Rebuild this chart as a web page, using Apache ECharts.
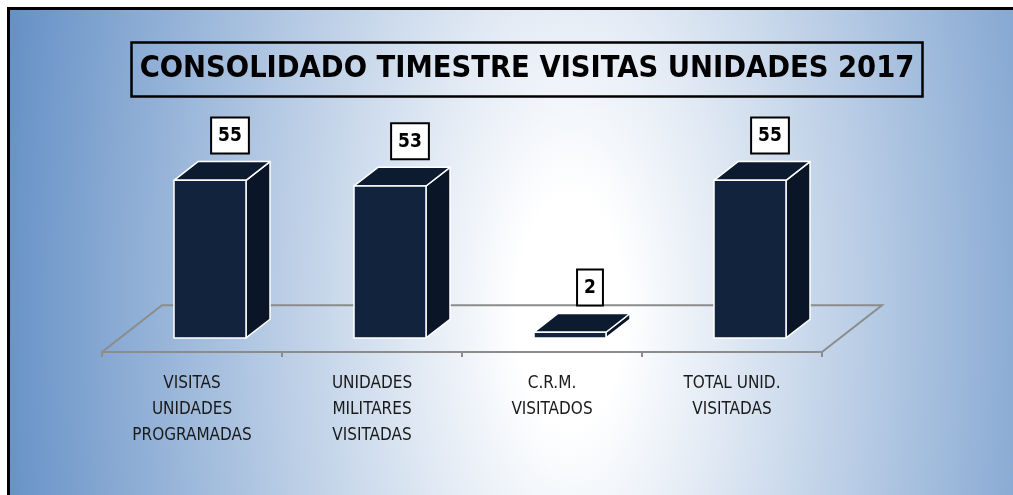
<!DOCTYPE html>
<html>
<head>
<meta charset="utf-8">
<script src="https://cdn.jsdelivr.net/npm/echarts@6/dist/echarts.min.js"></script>
<style>
html,body{margin:0;padding:0;background:#fff}
#chart{width:1013px;height:495px}
</style>
</head>
<body>
<div id="chart"></div>
<script>
const titleText = 'CONSOLIDADO TIMESTRE VISITAS UNIDADES 2017'
const categories = [
  'VISITAS\nUNIDADES\nPROGRAMADAS',
  'UNIDADES\nMILITARES\nVISITADAS',
  'C.R.M.\nVISITADOS',
  'TOTAL UNID.\nVISITADAS'
]
const values = [55, 53, 2, 55]

const narrow = "'Liberation Sans Narrow', 'DejaVu Sans Condensed', sans-serif"
// floor depth, as a share of one category band
const DEPTH_X = 1 / 3
const DEPTH_Y = 0.26
const BAR_W = 0.4

const chart = echarts.init(document.getElementById('chart'))

const renderFloor = (params, api) => {
  const band = api.size([1, 0])[0]
  const first = api.coord([0, 0])
  const last = api.coord([categories.length - 1, 0])
  const xl = first[0] - band / 2
  const xr = last[0] + band / 2
  const y = first[1]
  const dx = band * DEPTH_X, dy = band * DEPTH_Y
  return {
    type: 'polyline',
    shape: {points: [[xl, y], [xl + dx, y - dy], [xr + dx, y - dy], [xr, y]]},
    style: {stroke: '#8c8c8c', lineWidth: 2, fill: null}
  }
}

const renderBar = (params, api) => {
  const idx = api.value(0)
  const val = api.value(1)
  const base = api.coord([idx, 0])
  const top = api.coord([idx, val])
  const band = api.size([1, 0])[0]
  const dx = band * DEPTH_X, dy = band * DEPTH_Y
  const w = band * BAR_W
  const x0 = base[0] - w / 2 + dx * 0.3
  const x1 = x0 + w
  const yb = base[1] - dy * 0.3
  const yt = top[1] - dy * 0.3
  const bx = dx * 0.4, by = dy * 0.4
  const edge = {stroke: '#ffffff', lineWidth: 1.5, lineJoin: 'round'}
  return {
    type: 'group',
    children: [
      {type: 'polygon', shape: {points: [[x1, yt], [x1 + bx, yt - by], [x1 + bx, yb - by], [x1, yb]]},
        style: Object.assign({fill: '#0a1628'}, edge)},
      {type: 'polygon', shape: {points: [[x0, yt], [x1, yt], [x1 + bx, yt - by], [x0 + bx, yt - by]]},
        style: Object.assign({fill: '#0c1b30'}, edge)},
      {type: 'polygon', shape: {points: [[x0, yt], [x1, yt], [x1, yb], [x0, yb]]},
        style: Object.assign({fill: '#12233d'}, edge)},
      {type: 'text', x: (x0 + x1) / 2 + 20, y: yt - by - 9,
        style: {
          text: String(val), fill: '#000',
          font: 'bold 19px ' + narrow,
          align: 'center', verticalAlign: 'bottom',
          backgroundColor: '#fff', borderColor: '#000', borderWidth: 2,
          padding: [8, 6, 7, 6]
        }}
    ]
  }
}

const SY = 2.12
const option = {
  backgroundColor: '#ffffff',
  animation: false,
  graphic: [
    {
      type: 'rect', x: 7, y: 7, scaleY: SY, z: -10, silent: true,
      shape: {x: 0, y: 0, width: 1010, height: 490 / SY},
      style: {
        fill: {
          type: 'radial', global: true, x: 563, y: (310 - 7) / SY, r: 670,
          colorStops: [
            {offset: 0, color: '#ffffff'},
            {offset: 0.08, color: '#ffffff'},
            {offset: 1, color: '#4a7dbc'}
          ]
        }
      }
    },
    {
      type: 'polyline', z: -9, silent: true,
      shape: {points: [[8.5, 495], [8.5, 8.5], [1013, 8.5]]},
      style: {stroke: '#000', lineWidth: 3, fill: null}
    }
  ],
  title: {
    text: titleText,
    left: 519,
    top: 42,
    textAlign: 'center',
    padding: [12, 8, 12, 8],
    borderColor: '#000',
    borderWidth: 2.5,
    textStyle: {fontFamily: narrow, fontWeight: 'bold', fontSize: 30.5, color: '#000'}
  },
  grid: {left: 102, right: 191, top: 180, bottom: 143},
  xAxis: {
    type: 'category',
    data: categories,
    axisLine: {lineStyle: {color: '#8c8c8c', width: 2}},
    axisTick: {show: true, alignWithLabel: false, interval: 0, length: 5, lineStyle: {color: '#8c8c8c', width: 2}},
    axisLabel: {
      margin: 19, color: '#1a1a1a', fontSize: 17, lineHeight: 26,
      fontFamily: narrow, interval: 0
    }
  },
  yAxis: {type: 'value', min: 0, max: 60, show: false, splitLine: {show: false}},
  series: [
    {type: 'custom', z: 1, renderItem: renderFloor, data: [[0, 0]], silent: true},
    {type: 'custom', z: 3, renderItem: renderBar, data: values.map((v, i) => [i, v])}
  ]
}
chart.setOption(option)
</script>
</body>
</html>
